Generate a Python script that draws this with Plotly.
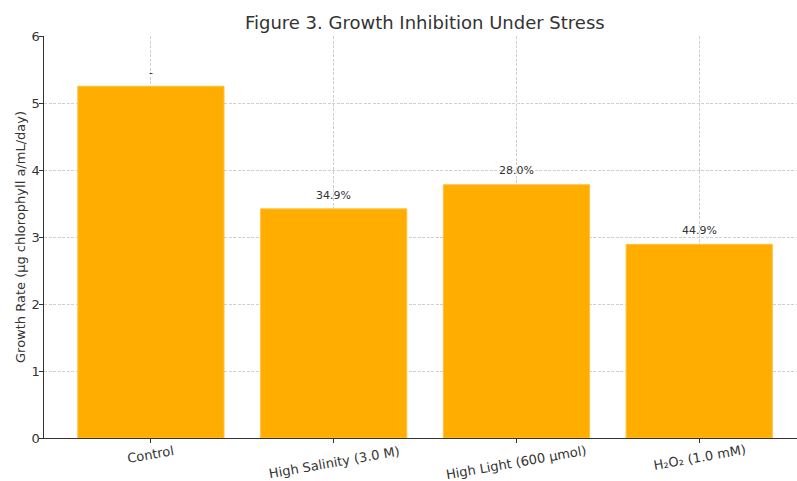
import math
import plotly.graph_objects as go

# Growth rates per treatment
categories = ["Control", "High Salinity (3.0 M)", "High Light (600 µmol)", "H₂O₂ (1.0 mM)"]
growth_rate = [5.25, 3.42, 3.78, 2.89]
bar_labels = ["-", "34.9%", "28.0%", "44.9%"]
label_offset = 0.08

y_ticks = [0, 1, 2, 3, 4, 5, 6]

FONT = "DejaVu Sans"
TEXT = "#333333"
BAR = "#FFAE00"
GRID = "#d0d0d0"

TICK_ANGLE = 10        # degrees, counter-clockwise
TICK_FONT = 13
CHAR_W = 6.5           # approximate advance per character at TICK_FONT
TICK_PAD = 5

x_pos = list(range(len(categories)))

fig = go.Figure()
fig.add_trace(go.Bar(
    x=x_pos,
    y=growth_rate,
    width=0.8,
    marker=dict(color=BAR, line=dict(color="#FFC040", width=1)),
    hoverinfo="skip",
))

# value labels above bars
for xi, yi, lab in zip(x_pos, growth_rate, bar_labels):
    fig.add_annotation(
        x=xi, y=yi + label_offset, xref="x", yref="y",
        text=lab, showarrow=False, yanchor="bottom",
        font=dict(family=FONT, size=11, color=TEXT),
    )

# rotated category labels, their rotated box hanging just below the axis
a = math.radians(TICK_ANGLE)
for xi, cat in zip(x_pos, categories):
    w = len(cat) * CHAR_W
    rot_h = w * math.sin(a) + (TICK_FONT * 1.15) * math.cos(a)
    fig.add_annotation(
        x=xi, y=0, xref="x", yref="paper",
        yshift=-(TICK_PAD + rot_h / 2),
        text=cat, showarrow=False, textangle=-TICK_ANGLE,
        xanchor="center", yanchor="middle",
        font=dict(family=FONT, size=TICK_FONT, color=TEXT),
    )

fig.update_layout(
    width=797, height=481,
    margin=dict(l=44, r=0, t=36, b=43),
    paper_bgcolor="white", plot_bgcolor="white",
    showlegend=False,
    title=dict(
        text="Figure 3. Growth Inhibition Under Stress",
        x=0.533, xanchor="center", y=0.953, yanchor="middle",
        font=dict(family=FONT, size=18, color=TEXT),
    ),
    font=dict(family=FONT, color=TEXT),
)

fig.update_xaxes(
    range=[-0.585, 3.535],
    tickvals=x_pos, ticktext=[""] * len(x_pos),
    showgrid=True, gridcolor=GRID, griddash="3px,1.5px", gridwidth=0.8,
    showline=True, linecolor="#333333", linewidth=1.2,
    ticks="outside", ticklen=4, tickcolor="#333333",
    zeroline=False, layer="above traces",
)
fig.update_yaxes(
    range=[0, 6],
    tickvals=y_ticks,
    showgrid=True, gridcolor=GRID, griddash="3px,1.5px", gridwidth=0.8,
    showline=True, linecolor="#333333", linewidth=1.2,
    ticks="outside", ticklen=3.5, tickcolor="#333333",
    ticklabelstandoff=-3,
    tickfont=dict(family=FONT, size=13, color=TEXT),
    zeroline=False, layer="above traces",
    title=dict(text="Growth Rate (µg chlorophyll a/mL/day)",
               font=dict(family=FONT, size=13, color=TEXT), standoff=2),
)

fig.write_html("out.html")
